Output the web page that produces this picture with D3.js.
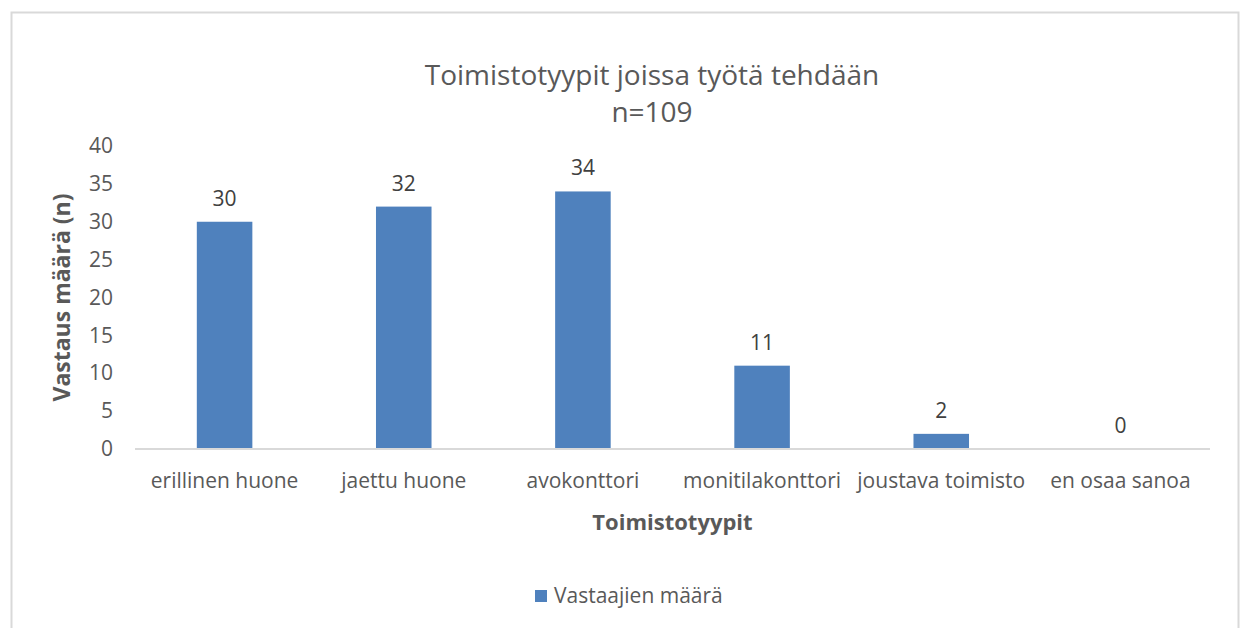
<!DOCTYPE html>
<html lang="fi">
<head>
<meta charset="utf-8">
<title>Toimistotyypit</title>
<script src="https://cdn.jsdelivr.net/npm/d3@7"></script>
<style>
body { margin:0; background:#fff; font-family:'Open Sans', sans-serif; }
.axis text { fill:#595959; font-size:21px; font-family:'Open Sans', sans-serif; }
.axis .domain { stroke:#d9d9d9; stroke-width:2px; }
</style>
</head>
<body>
<svg width="1240" height="628"></svg>
<script>
var categories = ["erillinen huone", "jaettu huone", "avokonttori", "monitilakonttori", "joustava toimisto", "en osaa sanoa"];
var values = [30, 32, 34, 11, 2, 0];
var yTicks = [0, 5, 10, 15, 20, 25, 30, 35, 40];
var seriesName = "Vastaajien määrä";

var svg = d3.select("svg");
var margin = {top: 146, left: 135, right: 30, bottom: 179};
var width = 1210 - margin.left, height = 449 - margin.top;

// chart frame
svg.append("rect")
  .attr("x", 11.5).attr("y", 12.5)
  .attr("width", 1227).attr("height", 640)
  .attr("fill", "#fff").attr("stroke", "#d9d9d9").attr("stroke-width", 2);

var g = svg.append("g").attr("transform", "translate(" + margin.left + "," + margin.top + ")");

var x = d3.scaleBand().domain(categories).range([0, width])
  .paddingInner(0.69).paddingOuter(0.345);
var y = d3.scaleLinear().domain([0, 40]).range([height, 0]);

// y axis (labels only)
var ya = g.append("g").attr("class", "axis")
  .attr("transform", "translate(-22,0)")
  .call(d3.axisLeft(y).tickValues(yTicks).tickSize(0).tickPadding(0));
ya.select(".domain").remove();

g.selectAll(".bar").data(values).enter().append("rect")
  .attr("class", "bar")
  .attr("x", function(d, i) { return x(categories[i]); })
  .attr("width", x.bandwidth())
  .attr("y", function(d) { return y(d); })
  .attr("height", function(d) { return height - y(d); })
  .attr("fill", "#4f81bd");

var xa = g.append("g").attr("class", "axis")
  .attr("transform", "translate(0," + height + ")")
  .call(d3.axisBottom(x).tickSize(0).tickPadding(24));
xa.select(".domain").attr("d", "M0,0H" + width);

g.selectAll(".lbl").data(values).enter().append("text")
  .attr("x", function(d, i) { return x(categories[i]) + x.bandwidth() / 2; })
  .attr("y", function(d) { return y(d) - 16; })
  .attr("text-anchor", "middle")
  .attr("fill", "#404040").attr("font-size", 21)
  .text(function(d) { return d; });

// titles
svg.append("text").attr("x", 652).attr("y", 85).attr("text-anchor", "middle")
  .attr("fill", "#595959").attr("font-size", 28)
  .text("Toimistotyypit joissa työtä tehdään");
svg.append("text").attr("x", 652).attr("y", 122).attr("text-anchor", "middle")
  .attr("fill", "#595959").attr("font-size", 28)
  .text("n=109");

svg.append("text")
  .attr("transform", "translate(70," + (margin.top + height / 2) + ") rotate(-90)")
  .attr("text-anchor", "middle").attr("font-weight", "bold")
  .attr("fill", "#595959").attr("font-size", 23)
  .text("Vastaus määrä (n)");

svg.append("text").attr("x", margin.left + width / 2).attr("y", 530)
  .attr("text-anchor", "middle").attr("font-weight", "bold")
  .attr("fill", "#595959").attr("font-size", 22)
  .text("Toimistotyypit");

// legend
var lg = svg.append("g").attr("transform", "translate(535,590)");
lg.append("rect").attr("width", 12).attr("height", 12).attr("fill", "#4f81bd");
lg.append("text").attr("x", 19).attr("y", 13).attr("fill", "#595959").attr("font-size", 21)
  .text(seriesName);
</script>
</body>
</html>
